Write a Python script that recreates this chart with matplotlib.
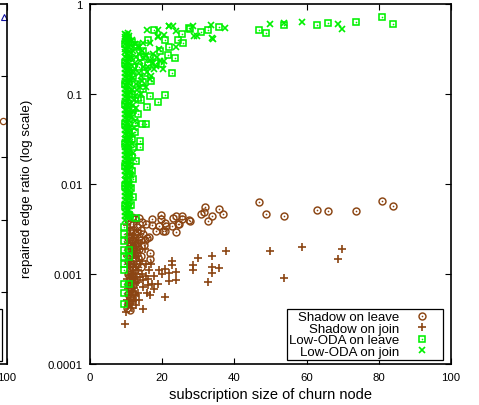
import numpy as np
import matplotlib
matplotlib.use('Agg')
import matplotlib.pyplot as plt
from matplotlib.ticker import NullLocator
from matplotlib.patches import Rectangle

plt.rcParams['font.family'] = ['Liberation Sans', 'DejaVu Sans']

BROWN = '#8b4513'
GREEN = '#00f000'

# ---- data (x = subscription size, y = repaired edge ratio) ----
shadow_leave = [
    (46.8, 0.0063), (48.8, 0.0047), (53.7, 0.0044), (62.8, 0.0052), (65.8, 0.0050),
    (73.8, 0.0050), (80.8, 0.0064), (83.8, 0.0057),
    (31.8, 0.0056), (31.7, 0.0049), (30.7, 0.0047), (35.8, 0.0053), (36.8, 0.0047),
    (33.8, 0.0044), (32.7, 0.0039), (27.7, 0.0039), (27.5, 0.0040), (24.7, 0.0036),
    (22.7, 0.0034), (23.8, 0.0029), (25.6, 0.0044), (23.8, 0.0044), (25.5, 0.0041),
    (19.6, 0.0045), (20.8, 0.0037), (20.8, 0.0030), (19.6, 0.0041), (22.9, 0.0042),
    (17.3, 0.0041), (17.3, 0.0035), (19.0, 0.0034), (21.0, 0.0034), (24.5, 0.0036),
    (20.3, 0.0030), (18.2, 0.0030), (16.4, 0.0026), (16.6, 0.0017), (16.6, 0.00147),
    (15.9, 0.0025), (15.3, 0.0024),
    (10.5, 0.0040), (11.5, 0.0043), (12.5, 0.0041), (13.5, 0.0042), (14.5, 0.0038),
    (15.5, 0.0036), (12.0, 0.0036), (13.0, 0.0033), (14.0, 0.0031), (11.0, 0.0030),
    (12.5, 0.0028), (13.5, 0.0026), (14.6, 0.0028), (10.5, 0.0025), (11.5, 0.0023),
    (12.5, 0.0021), (13.5, 0.0019), (10.5, 0.0019), (11.5, 0.0017), (12.5, 0.0015),
    (10.5, 0.0014), (11.5, 0.0012), (12.5, 0.0011), (10.5, 0.0010), (11.5, 0.00092),
    (12.3, 0.00085), (10.5, 0.00078), (11.4, 0.00068), (10.5, 0.00060), (11.2, 0.00054),
    (10.5, 0.00048), (10.2, 0.00042), (11.0, 0.00040), (13.0, 0.0013), (14.2, 0.0016),
    (15.0, 0.0021), (14.0, 0.0012),
    (11.0, 0.0036), (12.0, 0.0031), (13.0, 0.0029), (11.0, 0.0026), (12.0, 0.0024),
    (13.0, 0.0022), (14.0, 0.0024), (11.0, 0.0021), (12.0, 0.0019), (13.0, 0.0017),
    (11.0, 0.0016), (12.0, 0.0014), (11.0, 0.0013), (12.0, 0.0012), (11.0, 0.0011),
    (12.0, 0.00098), (11.0, 0.00088), (11.8, 0.00075), (11.0, 0.00072), (11.6, 0.00062),
    (11.0, 0.00056), (10.8, 0.00049),
]

shadow_join = [
    (49.8, 0.0018), (53.7, 0.00090), (58.8, 0.0020), (68.8, 0.00147), (69.9, 0.0019),
    (37.7, 0.0018), (33.8, 0.0016), (33.8, 0.0012), (33.8, 0.00102), (35.8, 0.00118),
    (29.8, 0.0015), (28.6, 0.00125), (28.6, 0.0011), (32.6, 0.00081), (22.7, 0.0014),
    (22.7, 0.00125), (21.8, 0.00102), (21.8, 0.00083), (23.8, 0.00106), (23.8, 0.00086),
    (19.2, 0.0011), (19.9, 0.0010), (17.3, 0.00078), (18.7, 0.00078), (17.8, 0.00096),
    (16.2, 0.00088), (16.7, 0.00058), (20.8, 0.00056), (14.7, 0.00041), (9.7, 0.00028),
    (20.8, 0.00113), (17.6, 0.00068),
    (10.2, 0.0035), (11.2, 0.0031), (12.2, 0.0027), (13.2, 0.0024), (14.2, 0.0022),
    (15.2, 0.0019), (10.4, 0.0022), (11.4, 0.0020), (12.4, 0.0018), (13.4, 0.0016),
    (14.4, 0.0014), (15.4, 0.0013), (10.2, 0.0016), (11.2, 0.0014), (12.2, 0.0013),
    (13.2, 0.0011), (14.4, 0.0010), (15.6, 0.00095), (10.4, 0.0012), (11.4, 0.0010),
    (12.4, 0.00092), (13.4, 0.00082), (14.6, 0.00072), (10.2, 0.00088), (11.2, 0.00080),
    (12.2, 0.00070), (13.2, 0.00062), (10.4, 0.00068), (11.4, 0.00058), (12.4, 0.00052),
    (10.2, 0.00052), (11.2, 0.00046), (10.4, 0.00044), (12.8, 0.00045), (15.8, 0.00062),
    (16.4, 0.0011), (17.0, 0.0013), (10.0, 0.00038),
    (10.8, 0.0028), (11.8, 0.0025), (12.8, 0.0021), (13.8, 0.0019), (10.8, 0.0019),
    (11.8, 0.0017), (12.8, 0.0015), (13.8, 0.0013), (10.8, 0.0013), (11.8, 0.0012),
    (12.8, 0.0010), (13.8, 0.00092), (10.8, 0.00098), (11.8, 0.00088), (12.8, 0.00080),
    (10.8, 0.00075), (11.8, 0.00065), (12.8, 0.00058), (10.8, 0.00058), (11.8, 0.00050),
    (10.8, 0.00047), (11.6, 0.00042), (13.6, 0.00052), (14.8, 0.00085), (16.0, 0.00075),
]

lowoda_leave = [
    (46.8, 0.52), (48.8, 0.476), (53.7, 0.58), (62.8, 0.59), (65.8, 0.615),
    (73.8, 0.63), (80.8, 0.71), (83.8, 0.595),
    (17.7, 0.52), (27.8, 0.527), (30.7, 0.484), (32.6, 0.51), (35.8, 0.55),
    (25.6, 0.47), (27.5, 0.535), (25.8, 0.37), (24.5, 0.40), (20.8, 0.40),
    (12.7, 0.33), (23.6, 0.25), (22.7, 0.171), (19.6, 0.215), (20.7, 0.098),
    (18.7, 0.082), (16.7, 0.095), (15.7, 0.072), (14.7, 0.113), (15.6, 0.046),
    (14.3, 0.047), (13.8, 0.0255), (13.8, 0.030), (12.7, 0.018), (11.8, 0.0114),
    (12.0, 0.0071), (12.7, 0.0042), (10.4, 0.42), (14.8, 0.30), (16.5, 0.26),
    (18.2, 0.22), (13.5, 0.20), (15.2, 0.17), (17.0, 0.14), (12.5, 0.13),
    (14.0, 0.085), (13.2, 0.060), (12.6, 0.038), (11.9, 0.026), (22.0, 0.33),
    (19.5, 0.30), (16.0, 0.40), (21.5, 0.27),
    (11.6, 0.38), (13.0, 0.35), (14.2, 0.26), (11.8, 0.20), (16.0, 0.21),
    (12.0, 0.16), (14.6, 0.135), (11.7, 0.10), (13.3, 0.09), (11.8, 0.066),
    (12.6, 0.048), (11.5, 0.032), (11.7, 0.020), (11.5, 0.014), (11.4, 0.009),
    (11.4, 0.0058),
    (9.6, 0.36), (10.8, 0.28), (9.6, 0.22), (10.8, 0.17), (9.6, 0.13),
    (10.8, 0.10), (9.6, 0.078), (10.8, 0.060), (9.6, 0.046), (10.8, 0.036),
    (9.6, 0.028), (10.8, 0.021), (9.6, 0.016), (10.8, 0.0125), (9.6, 0.0095),
    (10.8, 0.0074), (9.6, 0.0057), (10.8, 0.0045),
    (9.4, 0.0033), (9.4, 0.0028), (9.4, 0.0023), (9.4, 0.00187), (10.8, 0.00187),
    (9.4, 0.00154), (10.8, 0.00154), (9.4, 0.00129), (9.4, 0.0011), (9.4, 0.00078),
    (10.8, 0.00078), (9.4, 0.00062), (9.4, 0.00046),
]

lowoda_join = [
    (49.8, 0.595), (53.7, 0.615), (58.8, 0.625), (68.8, 0.595), (69.9, 0.53),
    (10.6, 0.476), (9.9, 0.45), (15.7, 0.51), (21.9, 0.565), (22.9, 0.565),
    (28.4, 0.565), (29.6, 0.445), (33.5, 0.585), (33.8, 0.415), (37.5, 0.545),
    (18.7, 0.445), (20.6, 0.45), (14.7, 0.366), (16.6, 0.366), (23.8, 0.33),
    (20.6, 0.234), (19.0, 0.316), (18.7, 0.51), (21.8, 0.57), (23.8, 0.50),
    (18.7, 0.43), (28.9, 0.445), (34.0, 0.41), (20.1, 0.19), (18.2, 0.206),
    (17.8, 0.19), (16.7, 0.147), (15.0, 0.25), (13.5, 0.28), (12.5, 0.22),
    (14.0, 0.16), (13.0, 0.11), (12.2, 0.085), (11.8, 0.065), (12.5, 0.050),
    (11.5, 0.035), (12.0, 0.17), (16.0, 0.20), (17.5, 0.28),
    (11.5, 0.40), (12.5, 0.36), (13.5, 0.33), (14.5, 0.30), (15.5, 0.27),
    (16.5, 0.24), (17.5, 0.22), (18.5, 0.26), (19.5, 0.23), (11.8, 0.30),
    (12.8, 0.26), (13.8, 0.23), (14.8, 0.20), (15.8, 0.175), (17.0, 0.16),
    (11.5, 0.25), (12.5, 0.19), (13.5, 0.17), (14.5, 0.14), (15.5, 0.12),
    (11.8, 0.15), (12.8, 0.13), (13.8, 0.12), (11.5, 0.11), (12.5, 0.095),
    (14.0, 0.10), (11.8, 0.075), (12.8, 0.070), (11.5, 0.055), (12.2, 0.042),
    (11.6, 0.028), (12.0, 0.022), (11.5, 0.016), (11.4, 0.0125), (11.3, 0.009),
    # dense column near x = 10
    (9.7, 0.47), (9.7, 0.43), (9.7, 0.39), (9.7, 0.355), (9.7, 0.32), (9.7, 0.29),
    (9.7, 0.26), (9.7, 0.235), (9.7, 0.21), (9.7, 0.19), (9.7, 0.172), (9.7, 0.155),
    (9.7, 0.14), (9.7, 0.126), (9.7, 0.113), (9.7, 0.102), (9.7, 0.092), (9.7, 0.083),
    (9.7, 0.075), (9.7, 0.067), (9.7, 0.060), (9.7, 0.054), (9.7, 0.049), (9.7, 0.044),
    (9.7, 0.040), (9.7, 0.036), (9.7, 0.032), (9.7, 0.029), (9.7, 0.026), (9.7, 0.0235),
    (9.7, 0.021), (9.7, 0.019), (9.7, 0.017), (9.7, 0.0154), (9.7, 0.0139), (9.7, 0.0125),
    (9.7, 0.0112), (9.7, 0.0101), (9.7, 0.0091), (9.7, 0.0082), (9.7, 0.0074), (9.7, 0.0067),
    (9.7, 0.0060), (9.7, 0.0054), (9.7, 0.0049), (9.7, 0.0044), (9.7, 0.0040),
    (10.2, 0.455), (10.2, 0.415), (10.2, 0.38), (10.2, 0.345), (10.2, 0.31), (10.2, 0.28),
    (10.2, 0.25), (10.2, 0.225), (10.2, 0.205), (10.2, 0.185), (10.2, 0.167), (10.2, 0.15),
    (10.2, 0.136), (10.2, 0.123), (10.2, 0.11), (10.2, 0.10), (10.2, 0.09), (10.2, 0.081),
    (10.2, 0.073), (10.2, 0.066), (10.2, 0.059), (10.2, 0.053), (10.2, 0.048), (10.2, 0.043),
    (10.2, 0.039), (10.2, 0.035), (10.2, 0.0315), (10.2, 0.028), (10.2, 0.0255), (10.2, 0.023),
    (10.2, 0.0207), (10.2, 0.0187), (10.2, 0.0168), (10.2, 0.0151), (10.2, 0.0136), (10.2, 0.0122),
    (10.2, 0.011), (10.2, 0.0099), (10.2, 0.0089), (10.2, 0.0080), (10.2, 0.0072), (10.2, 0.0065),
    (10.2, 0.0058), (10.2, 0.0052), (10.2, 0.0047), (10.2, 0.0043),
    (10.7, 0.44), (10.7, 0.40), (10.7, 0.37), (10.7, 0.33), (10.7, 0.30), (10.7, 0.27),
    (10.7, 0.245), (10.7, 0.22), (10.7, 0.20), (10.7, 0.18), (10.7, 0.163), (10.7, 0.147),
    (10.7, 0.133), (10.7, 0.12), (10.7, 0.108), (10.7, 0.097), (10.7, 0.088), (10.7, 0.079),
    (10.7, 0.071), (10.7, 0.064), (10.7, 0.057), (10.7, 0.051), (10.7, 0.046), (10.7, 0.042),
    (10.7, 0.038), (10.7, 0.034), (10.7, 0.031), (10.7, 0.027), (10.7, 0.0245), (10.7, 0.022),
    (10.7, 0.020), (10.7, 0.018), (10.7, 0.0162), (10.7, 0.0146), (10.7, 0.0131), (10.7, 0.0118),
    (10.7, 0.0106), (10.7, 0.0096), (10.7, 0.0086), (10.7, 0.0078), (10.7, 0.0070), (10.7, 0.0063),
    (10.7, 0.0057), (10.7, 0.0051), (10.7, 0.0046), (10.7, 0.0042),
    (11.1, 0.35), (11.1, 0.26), (11.1, 0.19), (11.1, 0.14), (11.1, 0.105), (11.1, 0.078),
    (11.1, 0.058), (11.1, 0.043), (11.1, 0.032), (11.1, 0.024), (11.1, 0.018), (11.1, 0.0135),
    (11.1, 0.010), (11.1, 0.0076), (11.1, 0.0057), (11.1, 0.0045),
]

# neighbouring panel (only its right edge is in view)
left_tri = [(99.2, 0.964)]
left_circ = [(98.9, 0.675)]

xticks = [0, 20, 40, 60, 80, 100]
yticks = [1e-4, 1e-3, 1e-2, 1e-1, 1]
ytick_labels = ['0.0001', '0.001', '0.01', '0.1', '1']
labels = ['Shadow on leave', 'Shadow on join', 'Low-ODA on leave', 'Low-ODA on join']

fig = plt.figure(figsize=(4.79, 4.06), dpi=100)

# ---- left neighbour panel ----
ax0 = fig.add_axes([-354 / 479, 41 / 406, 361 / 479, 360 / 406])
tx, ty = np.array(left_tri).T
cx, cy = np.array(left_circ).T
ax0.plot(tx, ty, ls='none', marker='^', ms=4, mfc='none', mec='#1010a0', mew=0.8)
ax0.plot(cx, cy, ls='none', marker='o', ms=4.5, mfc='none', mec=BROWN, mew=0.9)
ax0.set_xlim(0, 100)
ax0.set_ylim(0, 1)
ax0.set_xticks([100])
ax0.set_yticks([0.2, 0.4, 0.575, 0.8])
ax0.tick_params(direction='in', length=4, width=0.8, right=True, top=True,
                labelleft=False, labelsize=8.2, pad=5.5)
for s in ax0.spines.values():
    s.set_linewidth(1.2)
ax0.add_patch(Rectangle((0.55, 0.0083), 0.435, 0.145, transform=ax0.transAxes,
                        fill=False, lw=0.9, ec='black'))

# ---- main panel ----
ax = fig.add_axes([90 / 479, 41 / 406, 361 / 479, 360 / 406])

COLORS = {'o': BROWN, '+': BROWN, 's': GREEN, 'x': GREEN}


def draw(data, marker, ms, mew, dot=False):
    x, y = np.array(data).T
    h = ax.plot(x, y, ls='none', marker=marker, ms=ms, mfc='none', mew=mew,
                mec=COLORS[marker])[0]
    if dot:
        d = ax.plot(x, y, ls='none', marker='o', ms=1.2, mfc=COLORS[marker], mew=0)[0]
        return (h, d)
    return h


h1 = draw(shadow_leave, 'o', 5.0, 1.05, dot=True)
h2 = draw(shadow_join, '+', 5.5, 1.2)
h3 = draw(lowoda_leave, 's', 5.0, 1.15, dot=True)
h4 = draw(lowoda_join, 'x', 4.8, 1.2)

ax.set_yscale('log')
ax.set_xlim(0, 100)
ax.set_ylim(1e-4, 1)
ax.set_xticks(xticks)
ax.set_yticks(yticks)
ax.set_yticklabels(ytick_labels)
ax.yaxis.set_minor_locator(NullLocator())
ax.tick_params(direction='in', length=4, width=0.8, top=True, right=True,
               labelsize=8.2, pad=5.5)
for s in ax.spines.values():
    s.set_linewidth(1.2)

ax.set_xlabel('subscription size of churn node', fontsize=10.5)
ax.xaxis.set_label_coords(0.5, -0.064)
ax.xaxis.label.set_va('top')
ax.set_ylabel('repaired edge ratio (log scale)', fontsize=9.6)
ax.yaxis.set_label_coords(-0.158, 0.49)

leg = ax.legend([h1, h2, h3, h4], labels,
                loc='lower right', bbox_to_anchor=(0.978, 0.011), borderaxespad=0,
                markerfirst=False, fontsize=9.5, handlelength=2.9, handletextpad=0.3,
                borderpad=0.15, labelspacing=-0.05, fancybox=False, framealpha=1,
                edgecolor='black')
leg.get_frame().set_linewidth(0.9)

fig.savefig('out.png', dpi=100)
